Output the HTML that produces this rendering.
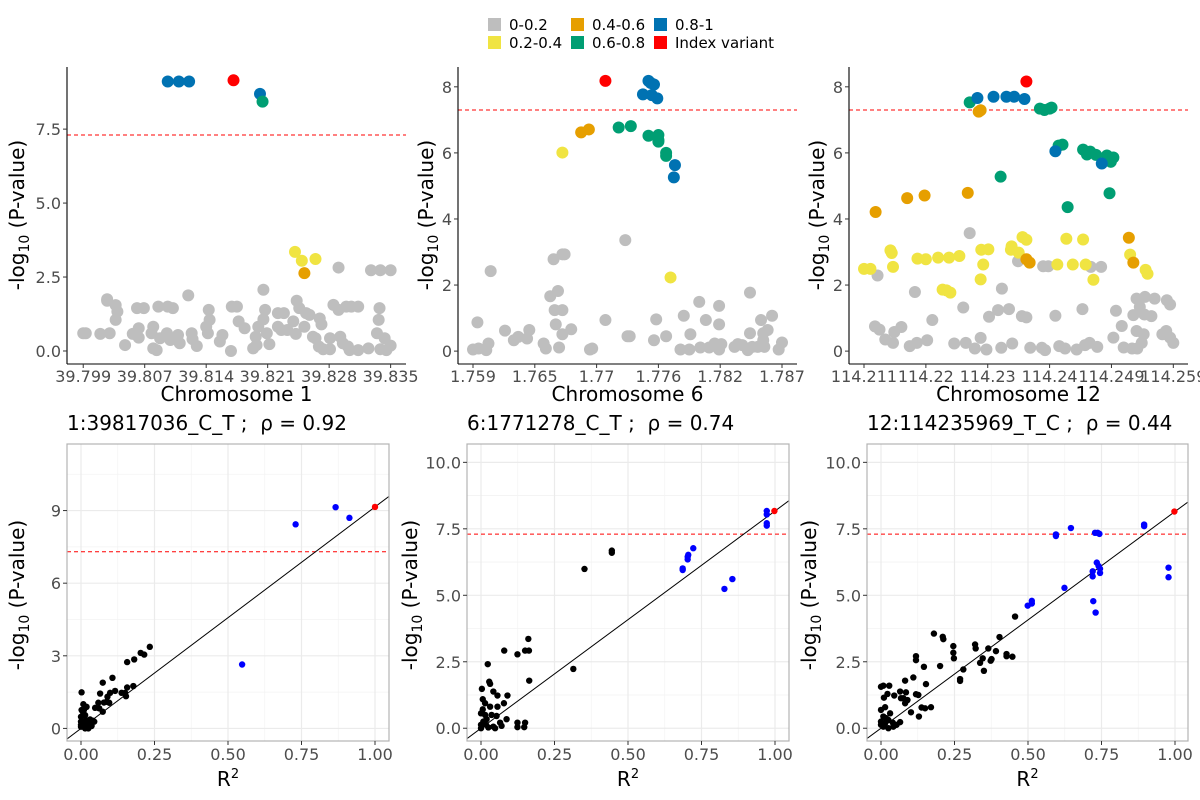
<!DOCTYPE html>
<html><head><meta charset="utf-8"><style>
body{margin:0;background:#fff;}
svg{display:block;font-family:"DejaVu Sans","Liberation Sans",sans-serif;}
</style></head><body>
<svg id="chart" width="1200" height="800" viewBox="0 0 1200 800" xmlns="http://www.w3.org/2000/svg">
<g font-size="15" fill="#000">
<rect x="488" y="18" width="13" height="13" fill="#BEBEBE"/><text x="509" y="30">0-0.2</text>
<rect x="488" y="36" width="13" height="13" fill="#F0E442"/><text x="509" y="48">0.2-0.4</text>
<rect x="571" y="18" width="13" height="13" fill="#E69F00"/><text x="592" y="30">0.4-0.6</text>
<rect x="571" y="36" width="13" height="13" fill="#009E73"/><text x="592" y="48">0.6-0.8</text>
<rect x="654" y="18" width="13" height="13" fill="#0072B2"/><text x="675" y="30">0.8-1</text>
<rect x="654" y="36" width="13" height="13" fill="#FF0000"/><text x="675" y="48">Index variant</text>
</g>
</svg>
<script>
// ---------- Top panel data (position, -log10 p) ----------
const t1GreyX=[39.7990,39.7993,39.8010,39.8021,39.8018,39.8018,39.8028,39.8030,39.8028,39.8039,39.8048,39.8053,39.8055,39.8055,39.8061,39.8072,39.8070,39.8076,39.8072,39.8078,39.8080,39.8089,39.8095,39.8088,39.8092,39.8103,39.8101,39.8113,39.8117,39.8123,39.8118,39.8137,39.8138,39.8134,39.8136,39.8150,39.8153,39.8163,39.8164,39.8170,39.8172,39.8179,39.8189,39.8193,39.8192,39.8195,39.8201,39.8203,39.8201,39.8208,39.8205,39.8218,39.8218,39.8225,39.8229,39.8222,39.8239,39.8236,39.8240,39.8243,39.8249,39.8251,39.8255,39.8259,39.8262,39.8267,39.8269,39.8266,39.8271,39.8279,39.8283,39.8289,39.8289,39.8291,39.8294,39.8298,39.8304,39.8312,39.8302,39.8312,39.8324,39.8327,39.8338,39.8350,39.8337,39.8336,39.8334,39.8343,39.8345,39.8350,39.8338,39.8279,39.8300];
const t1GreyY=[.60,.60,.58,.60,1.75,1.70,1.55,1.33,1.05,.20,.58,1.45,.77,.45,1.45,.82,.60,.03,.09,1.50,.43,1.50,1.45,.60,.37,.26,.54,1.88,.60,.17,.40,1.39,1.05,.82,.60,.32,.54,.00,1.50,1.50,1.00,.77,.09,.20,.48,.82,2.07,1.39,1.07,.23,.60,.82,1.28,1.28,.71,.71,.58,1.00,1.70,1.45,.82,1.28,1.22,.48,.43,1.10,.90,.15,.06,.43,1.56,1.39,2.82,.48,.26,1.50,1.50,1.50,.03,.03,.09,2.73,2.73,2.73,1.45,1.05,.60,.43,.03,.18,.06,.06,.15];
const t1YellowX=[39.8238,39.8246,39.8262]; const t1YellowY=[3.35,3.05,3.11];
const t1OrangeX=[39.8249]; const t1OrangeY=[2.63];
const t1GreenX=[39.8200]; const t1GreenY=[8.43];
const t1BlueX=[39.8089,39.8102,39.8114,39.8197]; const t1BlueY=[9.11,9.11,9.11,8.69];
const t1IndexX=[39.8166]; const t1IndexY=[9.15];
const t1Ticks=["39.799","39.807","39.814","39.821","39.828","39.835"];

const t2GreyX=[1.7728,1.7663,1.7671,1.7673,1.7606,1.7660,1.7667,1.7664,1.7671,1.7665,1.7671,1.7679,1.7668,1.7594,1.7590,1.7595,1.7602,1.7604,1.7619,1.7627,1.7631,1.7639,1.7641,1.7654,1.7656,1.7696,1.7698,1.7710,1.7730,1.7732,1.7754,1.7756,1.7765,1.7778,1.7781,1.7786,1.7787,1.7795,1.7796,1.7801,1.7804,1.7809,1.7813,1.7813,1.7813,1.7815,1.7827,1.7830,1.7834,1.7839,1.7841,1.7841,1.7843,1.7848,1.7851,1.7853,1.7853,1.7857,1.7854,1.7861,1.7867,1.7870];
const t2GreyY=[3.36,2.78,2.93,2.93,2.42,1.66,1.82,1.24,1.24,.81,.51,.66,.11,.87,.05,.08,.03,.23,.62,.33,.43,.38,.64,.23,.08,.05,.08,.94,.45,.45,.33,.96,.45,.05,1.07,.05,.51,1.49,.11,.94,.11,.23,1.37,.81,.05,.21,.13,.21,.18,.03,1.77,.54,.13,.13,.94,.54,.33,.64,.13,1.07,.05,.26];
const t2YellowX=[1.7671,1.7769]; const t2YellowY=[6.01,2.23];
const t2OrangeX=[1.7688,1.7695]; const t2OrangeY=[6.62,6.71];
const t2GreenX=[1.7722,1.7733,1.7749,1.7758,1.7758,1.7758,1.7765,1.7765]; const t2GreenY=[6.77,6.81,6.52,6.54,6.39,6.34,6.00,5.91];
const t2BlueX=[1.7749,1.7751,1.7754,1.7744,1.7752,1.7757,1.7773,1.7772]; const t2BlueY=[8.18,8.12,8.07,7.77,7.75,7.65,5.63,5.26];
const t2IndexX=[1.7710]; const t2IndexY=[8.18];
const t2Ticks=["1.759","1.765","1.77","1.776","1.782","1.787"];

const t3GreyX=[114.2274,114.2131,114.2189,114.2216,114.2264,114.2324,114.2318,114.2335,114.2304,114.2355,114.2362,114.2349,114.2388,114.2396,114.2462,114.2478,114.2407,114.2449,114.2501,114.2127,114.2134,114.2143,114.2155,114.2157,114.2168,114.2181,114.2192,114.2208,114.2250,114.2268,114.2282,114.2291,114.2300,114.2323,114.2340,114.2368,114.2386,114.2391,114.2413,114.2422,114.2440,114.2453,114.2460,114.2472,114.2497,114.2510,114.2513,114.2526,114.2528,114.2533,114.2533,114.2538,114.2541,114.2544,114.2546,114.2545,114.2556,114.2561,114.2573,114.2580,114.2585,114.2579,114.2585,114.2590,114.2534];
const t3GreyY=[3.57,2.29,1.79,.94,1.32,1.89,1.24,1.27,1.04,1.06,1.02,2.72,2.57,2.57,2.55,2.55,1.07,1.27,1.22,.75,.65,.35,.25,.58,.73,.15,.25,.33,.23,.25,.08,.40,.05,.10,.23,.10,.10,.03,.15,.08,.05,.18,.25,.13,.41,.76,.11,.08,1.09,1.59,.61,1.34,.25,.51,1.64,1.11,1.06,1.59,.51,1.54,1.41,.61,.41,.25,.08];
const t3YellowX=[114.2110,114.2120,114.2151,114.2153,114.2155,114.2193,114.2206,114.2225,114.2242,114.2258,114.2232,114.2238,114.2244,114.2292,114.2303,114.2295,114.2291,114.2339,114.2338,114.2350,114.2356,114.2362,114.2410,114.2424,114.2434,114.2450,114.2454,114.2466,114.2523,114.2547,114.2550];
const t3YellowY=[2.49,2.49,3.05,2.97,2.55,2.80,2.78,2.83,2.83,2.88,1.86,1.84,1.77,3.07,3.08,2.62,2.17,3.17,3.07,2.98,3.45,3.37,2.62,3.40,2.62,3.38,2.62,2.16,2.92,2.46,2.34];
const t3OrangeX=[114.2128,114.2177,114.2204,114.2271,114.2288,114.2291,114.2362,114.2367,114.2521,114.2528]; const t3OrangeY=[4.21,4.63,4.71,4.79,7.25,7.29,2.78,2.68,3.43,2.68];
const t3GreenX=[114.2274,114.2383,114.2390,114.2398,114.2401,114.2412,114.2418,114.2322,114.2450,114.2456,114.2461,114.2470,114.2487,114.2493,114.2497,114.2491,114.2426];
const t3GreenY=[7.53,7.34,7.30,7.34,7.37,6.22,6.25,5.28,6.10,5.95,6.04,5.94,5.92,5.73,5.86,4.78,4.36];
const t3BlueX=[114.2286,114.2311,114.2331,114.2343,114.2359,114.2407,114.2479]; const t3BlueY=[7.66,7.70,7.70,7.70,7.63,6.05,5.68];
const t3IndexX=[114.2362]; const t3IndexY=[8.16];
const t3Ticks=["114.211","114.22","114.23","114.24","114.249","114.259"];

// ---------- Bottom panel data (R^2, -log10 p) ----------
const b1R2=[0.548,0.730,0.866,0.913,1.0,0.234,0.203,0.215,0.181,0.157,0.107,0.074,0.065,0.178,0.157,0.150,0.153,0.138,0.116,0.099,0.090,0.087,0.078,0.059,0.048,0.062,0.074,0.096,0.031,0.040,0.045,0.028,0.002,0.002,0.0,0.0,0.0,0.008,0.010,0.014,0.017,0.014,0.022,0.008,0.019,0.006,0.025,0.036,0.0];
const b1P=[2.64,8.43,9.14,8.70,9.15,3.37,3.12,3.05,2.85,2.74,2.09,1.89,1.44,1.75,1.69,1.47,1.33,1.47,1.55,1.47,1.31,1.10,1.07,1.06,0.85,0.83,0.69,1.06,0.37,0.32,0.28,0.14,1.49,0.76,0.48,0.28,0.07,1.00,0.76,0.55,0.34,0.0,0.21,0.21,0.89,0.69,0.0,0.10,0.14];
const b2R2=[0.998,0.972,0.972,0.972,0.972,0.686,0.686,0.703,0.705,0.703,0.722,0.828,0.855,0.445,0.445,0.352,0.314,0.161,0.150,0.163,0.124,0.079,0.023,0.028,0.031,0.164,0.003,0.090,0.056,0.042,0.006,0.014,0.031,0.056,0.078,0.0,0.014,0.006,0.053,0.036,0.087,0.124,0.124,0.150,0.147,0.070,0.065,0.0,0.008,0.017,0.025,0.042,0.0,0.019,0.048];
const b2P=[8.17,8.17,8.04,7.71,7.62,5.95,6.01,6.35,6.52,6.45,6.77,5.24,5.61,6.68,6.60,5.99,2.23,3.36,2.92,2.92,2.78,2.92,2.41,1.75,1.67,1.79,1.48,1.23,1.23,1.38,1.09,0.94,0.81,0.81,0.94,0.56,0.50,0.71,0.46,0.50,0.34,0.21,0.04,0.21,0.04,0.09,0.21,0.13,0.25,0.13,0.03,0.06,0.0,0.34,0.0];
const b3R2=[0.998,0.895,0.895,0.728,0.743,0.737,0.646,0.595,0.595,0.734,0.740,0.720,0.720,0.745,0.745,0.978,0.978,0.722,0.730,0.624,0.499,0.513,0.513,0.456,0.403,0.391,0.373,0.376,0.365,0.346,0.337,0.350,0.320,0.322,0.280,0.269,0.269,0.427,0.427,0.447,0.246,0.246,0.248,0.210,0.212,0.180,0.201,0.146,0.153,0.119,0.119,0.110,0.119,0.127,0.082,0.138,0.150,0.170,0.129,0.102,0.065,0.085,0.045,0.022,0.010,0.028,0.008,0.0,0.076,0.090,0.082,0.068,0.014,0.031,0.0,0.008,0.0,0.014,0.025,0.040,0.053,0.065,0.008,0.025,0.042,0.0,0.017];
const b3P=[8.15,7.66,7.60,7.35,7.31,7.35,7.53,7.29,7.23,6.23,6.10,5.90,5.71,5.84,6.00,6.04,5.68,4.78,4.35,5.28,4.61,4.79,4.69,4.20,3.43,2.90,2.54,2.60,3.00,2.63,2.46,2.16,3.15,3.00,2.21,1.85,1.78,2.79,2.71,2.69,3.09,2.84,2.63,3.44,3.35,3.56,2.34,2.31,1.66,2.71,2.56,1.91,1.28,1.25,1.79,0.78,0.75,0.79,0.44,0.60,1.38,1.35,1.23,1.29,1.15,1.60,1.60,1.56,1.13,1.06,0.94,1.13,0.79,0.56,0.69,0.44,0.25,0.19,0.31,0.21,0.13,0.23,0.06,0.0,0.06,0.13,0.38];
const b1Ticks=["0","3","6","9"], b23Ticks=["0.0","2.5","5.0","7.5","10.0"];
const rTicks=["0.00","0.25","0.50","0.75","1.00"];
const indexP=[9.15,8.17,8.15];
const titles=["1:39817036_C_T ;  \u03c1 = 0.92","6:1771278_C_T ;  \u03c1 = 0.74","12:114235969_T_C ;  \u03c1 = 0.44"];
const chromLabels=["Chromosome 1","Chromosome 6","Chromosome 12"];

const NS="http://www.w3.org/2000/svg";
const svg=document.getElementById('chart');
function mk(tag,attrs,parent){const e=document.createElementNS(NS,tag);for(const k in attrs)e.setAttribute(k,attrs[k]);(parent||svg).appendChild(e);return e;}
function lin(d0,d1,r0,r1){return v=>r0+(v-d0)/(d1-d0)*(r1-r0);}
function yTitle(g,cx,cy){
  const t=mk('text',{x:cx,y:cy,transform:`rotate(-90 ${cx} ${cy})`,'text-anchor':'middle','font-size':20,fill:'#000'},g);
  
  
  t.innerHTML='-log<tspan font-size="14" dy="5">10</tspan><tspan dy="-5"> (P-value)</tspan>';
}

// ---- top panels ----
const tops=[
 {L:67,R:406,xd:[39.7971,39.8368],yd:[-0.44,9.6],tk:[39.799,39.835],lab:t1Ticks,yt:[0,2.5,5,7.5],ytl:["0.0","2.5","5.0","7.5"],ytx:24,
  sets:[[t1GreyX,t1GreyY,'#BEBEBE'],[t1YellowX,t1YellowY,'#F0E442'],[t1OrangeX,t1OrangeY,'#E69F00'],[t1BlueX,t1BlueY,'#0072B2'],[t1GreenX,t1GreenY,'#009E73'],[t1IndexX,t1IndexY,'#FF0000']]},
 {L:458,R:797,xd:[1.75764,1.78836],yd:[-0.39,8.6],tk:[1.759,1.787],lab:t2Ticks,yt:[0,2,4,6,8],ytl:["0","2","4","6","8"],ytx:433,
  sets:[[t2GreyX,t2GreyY,'#BEBEBE'],[t2YellowX,t2YellowY,'#F0E442'],[t2OrangeX,t2OrangeY,'#E69F00'],[t2GreenX,t2GreenY,'#009E73'],[t2BlueX,t2BlueY,'#0072B2'],[t2IndexX,t2IndexY,'#FF0000']]},
 {L:849,R:1188,xd:[114.20867,114.26128],yd:[-0.39,8.6],tk:[114.211,114.259],lab:t3Ticks,yt:[0,2,4,6,8],ytl:["0","2","4","6","8"],ytx:824,
  sets:[[t3GreyX,t3GreyY,'#BEBEBE'],[t3YellowX,t3YellowY,'#F0E442'],[t3OrangeX,t3OrangeY,'#E69F00'],[t3GreenX,t3GreenY,'#009E73'],[t3BlueX,t3BlueY,'#0072B2'],[t3IndexX,t3IndexY,'#FF0000']]}
];
const TOP=67,BOT=364;
tops.forEach((p,i)=>{
  const g=mk('g',{});
  
  
  const sx=lin(p.xd[0],p.xd[1],p.L,p.R), sy=lin(p.yd[0],p.yd[1],BOT,TOP);
  const th=mk('line',{x1:p.L,x2:p.R,y1:sy(7.3),y2:sy(7.3),stroke:'#FF0000','stroke-dasharray':'4,3','stroke-width':1},g);
  
  
  p.sets.forEach(s=>{
    s[0].forEach((xv,j)=>{
      const c=mk('circle',{cx:sx(xv),cy:sy(s[1][j]),r:6,fill:s[2]},g);
      
      
    });
  });
  mk('line',{x1:p.L,x2:p.L,y1:TOP,y2:BOT,stroke:'#000','stroke-width':1.1},g);
  mk('line',{x1:p.L,x2:p.R,y1:BOT,y2:BOT,stroke:'#000','stroke-width':1.1},g);
  p.yt.forEach((v,j)=>{
    mk('line',{x1:p.L-4,x2:p.L,y1:sy(v),y2:sy(v),stroke:'#333'},g);
    const t=mk('text',{x:p.L-6,y:sy(v)+6,'text-anchor':'end','font-size':16,fill:'#4D4D4D'},g);
    
    
    t.textContent=p.ytl[j];
  });
  const n=p.lab.length;
  p.lab.forEach((lb,j)=>{
    const v=p.tk[0]+(p.tk[1]-p.tk[0])*j/(n-1);
    const x=sx(v);
    mk('line',{x1:x,x2:x,y1:BOT,y2:BOT+4,stroke:'#333'},g);
    const t=mk('text',{x:x,y:382,'text-anchor':'middle','font-size':16,fill:'#4D4D4D'},g);
    
    
    t.textContent=lb;
  });
  const xt=mk('text',{x:(p.L+p.R)/2,y:401,'text-anchor':'middle','font-size':20,fill:'#000'},g);
  
  
  xt.textContent=chromLabels[i];
  yTitle(g,p.ytx,215);
});

// ---- bottom panels ----
const bots=[
 {L:67,R:389,x0:81,yd:[-0.52,11.75],r:b1R2,p:b1P,yt:[0,3,6,9],ytl:b1Ticks,minor:[1.5,4.5,7.5,10.5],ytx:24},
 {L:467,R:789,x0:481,yd:[-0.48,10.69],r:b2R2,p:b2P,yt:[0,2.5,5,7.5,10],ytl:b23Ticks,minor:[1.25,3.75,6.25,8.75],ytx:417},
 {L:867,R:1188,x0:881,yd:[-0.48,10.69],r:b3R2,p:b3P,yt:[0,2.5,5,7.5,10],ytl:b23Ticks,minor:[1.25,3.75,6.25,8.75],ytx:816}
];
const BT=444,BB=741;
bots.forEach((p,i)=>{
  const g=mk('g',{});
  
  
  const sx=lin(0,1,p.x0,p.x0+294), sy=lin(p.yd[0],p.yd[1],BB,BT);
  const cid='clip'+i;
  const cp=mk('clipPath',{id:cid},g); mk('rect',{x:p.L,y:BT,width:p.R-p.L,height:BB-BT},cp);
  [0.125,0.375,0.625,0.875].forEach(v=>mk('line',{x1:sx(v),x2:sx(v),y1:BT,y2:BB,stroke:'#F3F3F3','stroke-width':0.8},g));
  p.minor.forEach(v=>mk('line',{x1:p.L,x2:p.R,y1:sy(v),y2:sy(v),stroke:'#F3F3F3','stroke-width':0.8},g));
  [0,0.25,0.5,0.75,1].forEach(v=>mk('line',{x1:sx(v),x2:sx(v),y1:BT,y2:BB,stroke:'#EBEBEB','stroke-width':1.2},g));
  p.yt.forEach(v=>mk('line',{x1:p.L,x2:p.R,y1:sy(v),y2:sy(v),stroke:'#EBEBEB','stroke-width':1.2},g));
  const th=mk('line',{x1:p.L,x2:p.R,y1:sy(7.3),y2:sy(7.3),stroke:'#FF0000','stroke-dasharray':'4,3','stroke-width':1},g);
  
  
  const ip=indexP[i];
  const fit=mk('line',{x1:sx(-0.1),y1:sy(-0.1*ip),x2:sx(1.1),y2:sy(1.1*ip),stroke:'#000','stroke-width':1,'clip-path':`url(#${cid})`},g);
  
  
  p.r.forEach((rv,j)=>{
    const col=rv>=0.99?'#FF0000':(rv>0.48?'#0000FF':'#000');
    const c=mk('circle',{cx:sx(rv),cy:sy(p.p[j]),r:3.2,fill:col},g);
    
    
  });
  mk('rect',{x:p.L,y:BT,width:p.R-p.L,height:BB-BT,fill:'none',stroke:'#B3B3B3','stroke-width':1.2},g);
  p.yt.forEach((v,j)=>{
    mk('line',{x1:p.L-4,x2:p.L,y1:sy(v),y2:sy(v),stroke:'#333'},g);
    const t=mk('text',{x:p.L-6,y:sy(v)+6,'text-anchor':'end','font-size':16,fill:'#4D4D4D'},g);
    
    
    t.textContent=p.ytl[j];
  });
  rTicks.forEach((lb,j)=>{
    const x=sx(j*0.25);
    mk('line',{x1:x,x2:x,y1:BB,y2:BB+4,stroke:'#333'},g);
    const t=mk('text',{x:x,y:760,'text-anchor':'middle','font-size':16,fill:'#4D4D4D'},g);
    
    
    t.textContent=lb;
  });
  const xt=mk('text',{x:(p.L+p.R)/2,y:786,'text-anchor':'middle','font-size':20,fill:'#000'},g);
  
  
  xt.innerHTML='R<tspan font-size="13" dy="-8">2</tspan>';
  const tt=mk('text',{x:p.L,y:430,'font-size':20,fill:'#000'},g);
  
  
  tt.textContent=titles[i];
  tt.setAttribute('xml:space','preserve');
  tt.style.whiteSpace='pre';
  yTitle(g,p.ytx,595);
});
</script>
</body></html>
